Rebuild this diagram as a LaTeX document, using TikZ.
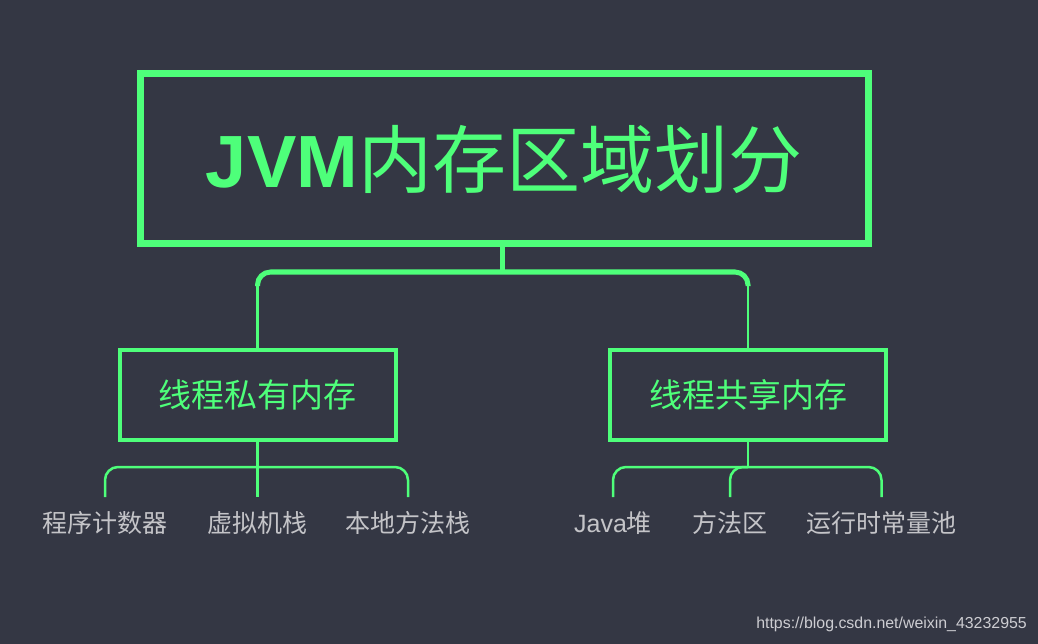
\documentclass[tikz,border=0pt]{standalone}
\usepackage{fontspec}
\setmainfont{Liberation Sans}
\newfontfamily\cjk{Noto Sans CJK SC}
\newfontfamily\lib{Liberation Sans}
\definecolor{bgc}{RGB}{52,55,68}
\definecolor{grn}{RGB}{78,255,122}
\definecolor{leafc}{RGB}{196,196,200}
\definecolor{wmc}{RGB}{205,205,210}
\begin{document}
\begin{tikzpicture}[x=1pt,y=-1pt,
  mainbox/.style={draw=grn,line width=7pt,minimum width=728pt,minimum height=170pt,inner sep=0pt,text=grn},
  childbox/.style={draw=grn,line width=4pt,minimum width=276pt,minimum height=89.5pt,inner sep=0pt,text=grn,font=\cjk\fontsize{33}{33}\selectfont},
  leaf/.style={anchor=north,text=leafc,inner xsep=0pt,inner ysep=15pt,text height=20pt,text depth=4pt,font=\cjk\fontsize{25}{25}\selectfont},
  conn/.style={draw=grn,line width=2.5pt},
  bar/.style={draw=grn,line width=5pt}]
\fill[bgc] (0,0) rectangle (1038,644);
\useasboundingbox (0,0) rectangle (1038,644);
\node[mainbox] (main) at (504,159) {{\lib\bfseries\fontsize{74}{74}\selectfont JVM}{\cjk\fontsize{74}{74}\selectfont 内存区域划分}};
\node[childbox] (left) at (257.5,395) {线程私有内存};
\node[childbox] (right) at (748,395) {线程共享内存};
\node[leaf] (l1) at (105,497) {程序计数器};
\node[leaf] (l2) at (257.5,497) {虚拟机栈};
\node[leaf] (l3) at (408,497) {本地方法栈};
\node[leaf] (r1) at (613,497) {{\lib Java}堆};
\node[leaf] (r2) at (730,497) {方法区};
\node[leaf] (r3) at (881.5,497) {运行时常量池};
\coordinate (hub) at (502.5,272);
\coordinate (lhub) at (257.5,467);
\coordinate (rhub) at (748,467);
\coordinate (lt) at (257.5,286);
\coordinate (rt) at (748,286);
% top connectors
\draw[conn] (left.north) -- (lt);
\draw[conn] (right.north) -- (rt);
\draw[bar,rounded corners=13pt] (lt) |- (hub) -| (rt);
\draw[bar] (main.south -| hub) -- (hub);
% left lower
\draw[conn,rounded corners=13pt] (l1.north) |- (lhub) -| (l3.north);
\draw[conn] (left.south) -- (l2.north);
% right lower
\draw[conn] (right.south) -- (rhub);
\draw[conn,rounded corners=13pt] (r1.north) |- (rhub) -| (r3.north);
\draw[conn,rounded corners=13pt] (r2.north) |- (rhub);
\node[anchor=east,text=wmc,font=\lib\fontsize{15.9}{15.9}\selectfont,inner sep=0pt] (wm) at (1027,624) {https://blog.csdn.net/weixin\_43232955};
\end{tikzpicture}
\end{document}
